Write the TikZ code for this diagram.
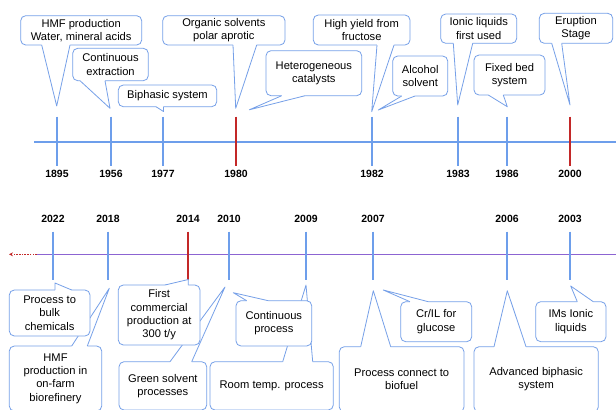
\documentclass[tikz,border=0pt]{standalone}
\usepackage{fontspec}
\setmainfont{Liberation Sans}
\usetikzlibrary{calc,arrows.meta}
\definecolor{tlblue}{RGB}{109,158,235}
\definecolor{boxblue}{RGB}{118,160,232}
\definecolor{redtick}{RGB}{195,40,40}
\definecolor{tlpurple}{RGB}{140,100,210}
\newcommand\boxfont{\fontsize{11.2}{13.4}\selectfont}
\newcommand\yearfont{\fontsize{10.5}{12}\selectfont\bfseries}
\newcommand\ptr[4]{%
  \fill[white] ($#1+(0,#4)$) -- #1 -- #3 -- #2 -- ($#2+(0,#4)$) -- cycle;
  \draw[cline] #1 -- #3 -- #2;}
\begin{document}
\begin{tikzpicture}[x=1bp,y=-1bp,
  cline/.style={draw=boxblue,line width=0.8bp,line join=round},
  cbox/.style={draw=boxblue,fill=white,line width=0.8bp,rounded corners=5bp,
     align=center,inner sep=0pt,font=\boxfont,text=black},
  bluetick/.style={draw=tlblue,line width=2bp},
  redmark/.style={draw=redtick,line width=2bp},
  year/.style={font=\yearfont,text=black,inner sep=0pt}]
\useasboundingbox (0,0) rectangle (616,409);
\clip (0,0) rectangle (616,409);
\fill[white] (0,0) rectangle (616,409);

% ---------- top timeline ----------
\coordinate (tl0) at (34,142);
\coordinate (tl1) at (616,142);
\draw[tlblue,line width=1.6bp] (tl0) -- (tl1);
\foreach \x/\yr/\st in {57/1895/bluetick,111/1956/bluetick,163/1977/bluetick,236/1980/redmark,
   372/1982/bluetick,458/1983/bluetick,507/1986/bluetick,570/2000/redmark}{
  \draw[\st] (\x,116.7) -- (\x,165.7);
  \node[year] (y\yr) at (\x,173.5) {\yr};
}

% ---------- top callouts ----------
\node[cbox,minimum width=121bp,minimum height=29.3bp] (t1) at (81.2,30.35) {HMF production\\Water, mineral acids};
\ptr{(41.7,45)}{(70,45)}{(56.7,106)}{-2}
\node[cbox,minimum width=75.6bp,minimum height=32.4bp] (t2) at (110.5,64.5) {Continuous\\extraction};
\ptr{(80,80.7)}{(105,80.7)}{(110,108.3)}{-2}
\node[cbox,minimum width=98.4bp,minimum height=21.7bp] (t3) at (167.5,95.85) {Biphasic system};
\ptr{(156,106.7)}{(163.5,106.7)}{(163.5,111.5)}{-2}
\node[cbox,minimum width=122.3bp,minimum height=29.3bp] (t4) at (223.85,30.35) {Organic solvents\\polar aprotic};
\ptr{(233,45)}{(256.7,45)}{(235.7,108.3)}{-2}
\node[cbox,minimum width=95.7bp,minimum height=45bp] (t5) at (313.85,73.2) {Heterogeneous\\catalysts};
\ptr{(281.7,95.7)}{(305,95.7)}{(249.3,109.8)}{-2}
\node[cbox,minimum width=96.7bp,minimum height=30bp] (t6) at (361.65,30) {High yield from\\fructose};
\ptr{(377,45)}{(394,45)}{(371.7,111.7)}{-2}
\node[cbox,minimum width=55bp,minimum height=40bp] (t7) at (420.2,76) {Alcohol\\solvent};
\ptr{(401.7,96)}{(415,96)}{(378.3,110)}{-2}
\node[cbox,minimum width=76bp,minimum height=29.3bp] (t8) at (478.7,28.65) {Ionic liquids\\first used};
\ptr{(453.3,43.3)}{(472.7,43.3)}{(457.7,105)}{-2}
\node[cbox,minimum width=71bp,minimum height=40bp] (t9) at (509.5,75) {Fixed bed\\system};
\ptr{(488.3,95)}{(503.3,95)}{(507.3,106.7)}{-2}
\node[cbox,minimum width=73.4bp,minimum height=30bp] (t10) at (576,28.3) {Eruption\\Stage};
\ptr{(551.7,43.3)}{(561.7,43.3)}{(570,105)}{-2}

% ---------- bottom timeline ----------
\coordinate (bl0) at (36.7,254.3);
\coordinate (bl1) at (616,254.3);
\coordinate (arr) at (9,254.3);
\draw[tlpurple,line width=1.6bp] (bl0) -- (bl1);
\draw[redtick,line width=1.2bp,dash pattern=on 1.5bp off 1.2bp,-{Stealth[length=4bp,width=4bp]}] (bl0) -- (arr);
\foreach \x/\yr/\st in {53/2022/bluetick,108/2018/bluetick,188/2014/redmark,229/2010/bluetick,
   306/2009/bluetick,373/2007/bluetick,507/2006/bluetick,570/2003/bluetick}{
  \draw[\st] (\x,231.7) -- (\x,280);
  \node[year] (y\yr) at (\x,218.5) {\yr};
}

% ---------- bottom callouts ----------
\node[cbox,minimum width=92.4bp,minimum height=65bp] (b2) at (55.5,378.5) {HMF\\production in\\on-farm\\biorefinery};
\ptr{(71.7,346)}{(87.3,346)}{(109.3,288.3)}{2}
\node[cbox,minimum width=80.7bp,minimum height=46bp] (b1) at (49.65,313) {Process to\\bulk\\chemicals};
\ptr{(55,290)}{(71.7,290)}{(55,283)}{2}

\node[cbox,minimum width=87.7bp,minimum height=48.3bp] (b4) at (162.85,385.85) {Green solvent\\processes};
\ptr{(170,361.7)}{(191.7,361.7)}{(225,287)}{2}
\node[cbox,minimum width=81.7bp,minimum height=60bp] (b3) at (159.15,315) {First\\commercial\\production at\\300 t/y};
\ptr{(165,285)}{(188.3,285)}{(188.3,279.5)}{2}

\node[cbox,minimum width=123.3bp,minimum height=48.3bp] (b6) at (271.65,385.85) {Room temp. process};
\ptr{(282.7,361.7)}{(312.7,361.7)}{(306,285)}{2}
\node[cbox,minimum width=75.7bp,minimum height=45.3bp] (b5) at (273.85,323.35) {Continuous\\process};
\ptr{(246.7,300.7)}{(268.3,300.7)}{(233.3,292.7)}{2}

\node[cbox,minimum width=71bp,minimum height=40bp] (b7) at (436.2,321.7) {Cr/IL for\\glucose};
\ptr{(410,301.7)}{(428.3,301.7)}{(383.3,290)}{2}
\node[cbox,minimum width=124.7bp,minimum height=65.3bp] (b8) at (401.65,379.35) {Process connect to\\biofuel};
\ptr{(360.7,346.7)}{(390.7,346.7)}{(373.3,290.7)}{2}
\node[cbox,minimum width=124.3bp,minimum height=65.3bp] (b9) at (536.15,379.35) {Advanced biphasic\\system};
\ptr{(494,346.7)}{(526,346.7)}{(507.3,290.7)}{2}
\node[cbox,minimum width=70.3bp,minimum height=40bp] (b10) at (570.85,321.7) {IMs Ionic\\liquids};
\ptr{(577.3,301.7)}{(593.3,301.7)}{(570.7,286)}{2}
\end{tikzpicture}
\end{document}
